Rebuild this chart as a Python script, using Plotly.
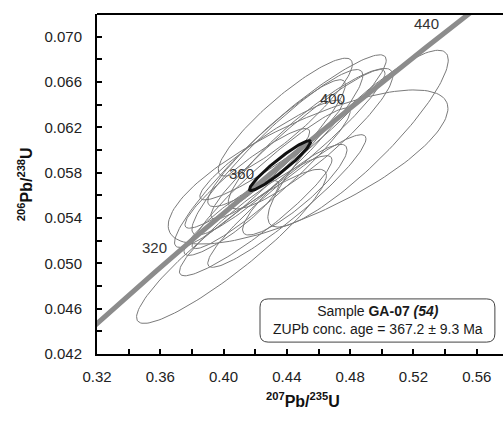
import numpy as np
import plotly.graph_objects as go

# Decay constants (1/yr)
LAMBDA_238 = 1.55125e-10
LAMBDA_235 = 9.8485e-10

# Concordia curve ages (Ma) and labelled ages
concordia_ages = [270, 290, 310, 330, 350, 370, 390, 410, 430, 450, 460]
label_ages = [320, 360, 400, 440]

# Analyses: 207Pb/235U, error, 206Pb/238U, error, error correlation
pb207_u235 = [0.405, 0.485, 0.4534, 0.4464, 0.434, 0.439, 0.4203, 0.423, 0.440, 0.415, 0.430, 0.405, 0.445, 0.455, 0.447, 0.430]
err_207 = [0.060, 0.057, 0.0884, 0.0564, 0.054, 0.0424, 0.0482, 0.054, 0.050, 0.0394, 0.045, 0.030, 0.033, 0.052, 0.055, 0.050]
pb206_u238 = [0.0515, 0.0610, 0.0585, 0.0617, 0.0598, 0.0629, 0.0542, 0.0588, 0.0555, 0.0575, 0.0600, 0.0540, 0.0565, 0.0610, 0.0605, 0.0575]
err_206 = [0.0068, 0.0078, 0.0068, 0.0067, 0.0073, 0.0052, 0.0053, 0.0074, 0.00585, 0.0044, 0.0044, 0.0033, 0.0040, 0.0062, 0.0066, 0.0062]
rho = [0.92, 0.89, 0.76, 0.93, 0.93, 0.90, 0.93, 0.94, 0.94, 0.93, 0.93, 0.90, 0.88, 0.90, 0.95, 0.95]

# Concordia age result
conc_age = 367.2
conc_err = 9.3
conc_ellipse = (0.4357, 0.0193, 0.05862, 0.0022, 0.95)

x_ticks = [0.32, 0.36, 0.40, 0.44, 0.48, 0.52, 0.56]
y_ticks = [0.042, 0.046, 0.050, 0.054, 0.058, 0.062, 0.066, 0.070]


def ratios(age_ma):
    t = np.asarray(age_ma, dtype=float) * 1e6
    return np.exp(LAMBDA_235 * t) - 1, np.exp(LAMBDA_238 * t) - 1


def ellipse(x0, sx, y0, sy, r, n=140):
    t = np.linspace(0, 2 * np.pi, n)
    xs = x0 + sx * np.cos(t)
    ys = y0 + sy * (r * np.cos(t) + np.sqrt(1 - r * r) * np.sin(t))
    return xs, ys


fig = go.Figure()

for x0, sx, y0, sy, r in zip(pb207_u235, err_207, pb206_u238, err_206, rho):
    ex, ey = ellipse(x0, sx, y0, sy, r)
    fig.add_trace(go.Scatter(x=ex, y=ey, mode="lines",
                             line=dict(color="#7a7a7a", width=1),
                             hoverinfo="skip", showlegend=False))

cx, cy = ratios(concordia_ages)
fig.add_trace(go.Scatter(x=cx, y=cy, mode="lines",
                         line=dict(color="#8c8c8c", width=5),
                         hoverinfo="skip", showlegend=False))

ex, ey = ellipse(*conc_ellipse)
fig.add_trace(go.Scatter(x=ex, y=ey, mode="lines",
                         line=dict(color="#111111", width=3),
                         hoverinfo="skip", showlegend=False))

lx, ly = ratios(label_ages)
for a, px, py in zip(label_ages, lx, ly):
    fig.add_annotation(x=px, y=py, text=str(a), showarrow=False,
                       xanchor="right", yanchor="middle", xshift=-8, yshift=6,
                       font=dict(family="Liberation Sans, Arial", size=15, color="#333333"))

# Rounded box for the sample summary
x0p, x1p, y0p, y1p = 0.4015, 0.980, 0.035, 0.162
rx, ry = 0.02, 0.024
path = (f"M {x0p+rx},{y0p} L {x1p-rx},{y0p} Q {x1p},{y0p} {x1p},{y0p+ry} "
        f"L {x1p},{y1p-ry} Q {x1p},{y1p} {x1p-rx},{y1p} "
        f"L {x0p+rx},{y1p} Q {x0p},{y1p} {x0p},{y1p-ry} "
        f"L {x0p},{y0p+ry} Q {x0p},{y0p} {x0p+rx},{y0p} Z")
fig.add_shape(type="path", path=path, xref="paper", yref="paper",
              line=dict(color="#444444", width=1), fillcolor="white", layer="above")
fig.add_annotation(xref="paper", yref="paper", x=0.691, y=0.099,
                   xanchor="center", yanchor="middle",
                   text=(f"Sample <b>GA-07</b> <b><i>(54)</i></b><br>"
                         f"ZUPb conc. age = {conc_age} ± {conc_err} Ma"),
                   showarrow=False, align="center",
                   font=dict(family="Liberation Sans, Arial", size=14, color="#1a1a1a"))

fig.add_annotation(xref="paper", yref="paper", x=0.507, y=-0.135,
                   xanchor="center", yanchor="middle",
                   text="<b><sup>207</sup>Pb/<sup>235</sup>U</b>", showarrow=False,
                   font=dict(family="Liberation Sans, Arial", size=16, color="#111111"))
fig.add_annotation(xref="paper", yref="paper", x=-0.177, y=0.5, textangle=-90,
                   xanchor="center", yanchor="middle",
                   text="<b><sup>206</sup>Pb/<sup>238</sup>U</b>", showarrow=False,
                   font=dict(family="Liberation Sans, Arial", size=16, color="#111111"))

axis_font = dict(family="Liberation Sans, Arial", size=15, color="#222222")
fig.update_xaxes(range=[0.32, 0.5766], tickvals=x_ticks, tickformat=".2f",
                 ticks="inside", ticklen=5, tickwidth=2, tickcolor="black",
                 minor=dict(dtick=0.02, tick0=0.32, ticks="inside", ticklen=5,
                            tickwidth=2, tickcolor="black"),
                 showline=True, linecolor="black", linewidth=2, mirror=False,
                 showgrid=False, zeroline=False, tickfont=axis_font, ticklabelstandoff=8)
fig.update_yaxes(range=[0.042, 0.072], tickvals=y_ticks, tickformat=".3f",
                 ticks="inside", ticklen=5, tickwidth=2, tickcolor="black",
                 minor=dict(dtick=0.002, tick0=0.042, ticks="inside", ticklen=5,
                            tickwidth=2, tickcolor="black"),
                 showline=True, linecolor="black", linewidth=2,
                 showgrid=False, zeroline=False, tickfont=axis_font, ticklabelstandoff=10)

# top border line
fig.add_shape(type="line", xref="paper", yref="paper", x0=0, x1=1, y0=1, y1=1,
              line=dict(color="black", width=2))

fig.update_layout(width=503, height=421, margin=dict(l=97, r=0, t=14, b=67),
                  plot_bgcolor="white", paper_bgcolor="white", showlegend=False)

fig.write_html("out.html")
